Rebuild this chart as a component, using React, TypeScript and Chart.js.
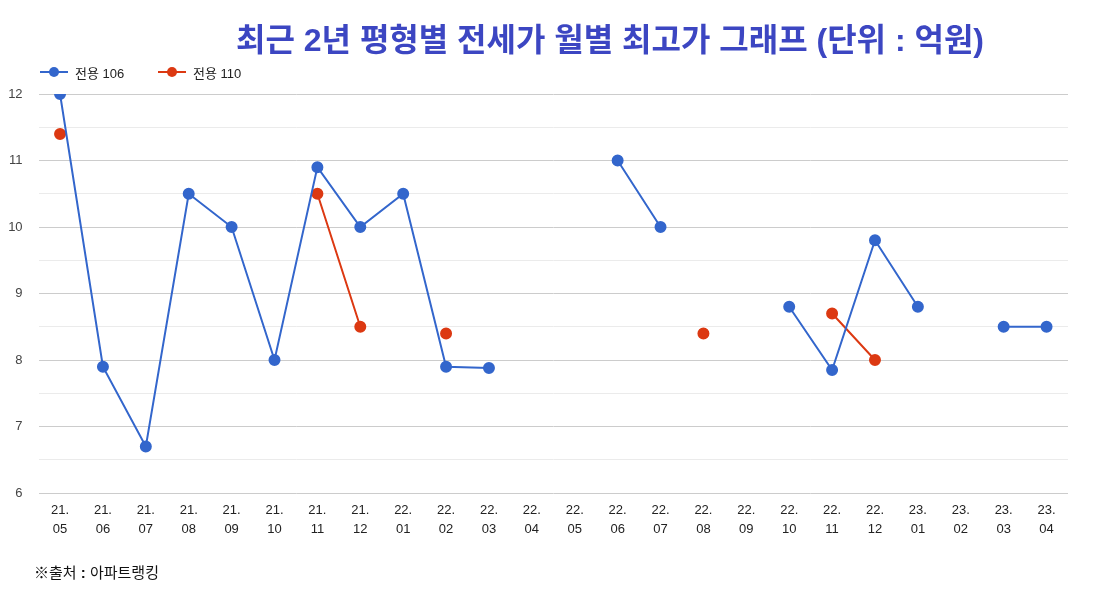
import React, { useEffect, useRef } from "react";
import { Chart, registerables } from "chart.js";

Chart.register(...registerables);

const categories: string[][] = [
  ["21.", "05"], ["21.", "06"], ["21.", "07"], ["21.", "08"], ["21.", "09"], ["21.", "10"],
  ["21.", "11"], ["21.", "12"], ["22.", "01"], ["22.", "02"], ["22.", "03"], ["22.", "04"],
  ["22.", "05"], ["22.", "06"], ["22.", "07"], ["22.", "08"], ["22.", "09"], ["22.", "10"],
  ["22.", "11"], ["22.", "12"], ["23.", "01"], ["23.", "02"], ["23.", "03"], ["23.", "04"],
];

const series106: (number | null)[] = [
  12, 7.9, 6.7, 10.5, 10, 8, 10.9, 10, 10.5, 7.9, 7.88, null,
  null, 11, 10, null, null, 8.8, 7.85, 9.8, 8.8, null, 8.5, 8.5,
];

const series110: (number | null)[] = [
  11.4, null, null, null, null, null, 10.5, 8.5, null, 8.4, null, null,
  null, null, null, 8.4, null, null, 8.7, 8.0, null, null, null, null,
];

const seriesNames = ["전용 106", "전용 110"];
const seriesColors = ["#3366cc", "#dc3912"];

const FONT = "'Liberation Sans', Arial, 'Noto Sans CJK KR', sans-serif";

export default function App() {
  const ref = useRef<HTMLCanvasElement | null>(null);

  useEffect(() => {
    if (!ref.current) return;
    const chart = new Chart(ref.current, {
      type: "line",
      data: {
        labels: categories,
        datasets: [
          {
            label: seriesNames[0],
            data: series106,
            borderColor: seriesColors[0],
            backgroundColor: seriesColors[0],
            borderWidth: 2,
            pointRadius: 5,
            pointHoverRadius: 5,
            spanGaps: false,
            tension: 0,
          },
          {
            label: seriesNames[1],
            data: series110,
            borderColor: seriesColors[1],
            backgroundColor: seriesColors[1],
            borderWidth: 2,
            pointRadius: 5,
            pointHoverRadius: 5,
            spanGaps: false,
            tension: 0,
          },
        ],
      },
      options: {
        animation: false,
        responsive: false,
        maintainAspectRatio: false,
        layout: { padding: { top: 94, bottom: 52, left: 0, right: 40 } },
        plugins: {
          legend: { display: false },
          title: { display: false },
          tooltip: { enabled: false },
        },
        scales: {
          x: {
            offset: true,
            grid: { display: false, drawTicks: false },
            border: { display: false },
            ticks: {
              autoSkip: false,
              maxRotation: 0,
              minRotation: 0,
              padding: 8,
              color: "#222",
              font: { family: FONT, size: 13, lineHeight: 1.45 },
            },
            afterFit: (s: any) => {
              s.height = 50;
            },
          },
          y: {
            min: 6,
            max: 12,
            grid: {
              drawTicks: false,
              color: (ctx: any) => {
                const v = ctx.tick ? ctx.tick.value : 0;
                return Math.abs(v - Math.round(v)) < 1e-6 ? "#cccccc" : "#ebebeb";
              },
              lineWidth: 1,
            },
            border: { display: false },
            ticks: {
              stepSize: 0.5,
              padding: 16,
              color: "#444",
              font: { family: FONT, size: 13 },
              callback: (v: any) => (Math.abs(v - Math.round(v)) < 1e-6 ? String(Math.round(v)) : ""),
            },
            afterFit: (s: any) => {
              s.width = 38.6;
            },
          },
        },
      },
    });
    return () => chart.destroy();
  }, []);

  const legendItem = (i: number, left: number) => (
    <div
      key={i}
      style={{
        position: "absolute",
        left,
        top: 63,
        height: 18,
        display: "flex",
        alignItems: "center",
        fontFamily: FONT,
        fontSize: 13,
        color: "#222",
      }}
    >
      <div style={{ position: "relative", width: 28, height: 18, marginRight: 7 }}>
        <div
          style={{
            position: "absolute",
            left: 0,
            top: 8,
            width: 28,
            height: 2,
            background: seriesColors[i],
          }}
        />
        <div
          style={{
            position: "absolute",
            left: 9,
            top: 4,
            width: 10,
            height: 10,
            borderRadius: 5,
            background: seriesColors[i],
          }}
        />
      </div>
      <span>{seriesNames[i]}</span>
    </div>
  );

  return (
    <div
      style={{
        position: "fixed",
        left: 0,
        top: 0,
        width: 1108,
        height: 595,
        background: "#fff",
        overflow: "hidden",
      }}
    >
      <canvas ref={ref} width={1108} height={595} style={{ position: "absolute", left: 0, top: 0 }} />
      <div
        style={{
          position: "absolute",
          left: 0,
          width: 1220,
          top: 14,
          textAlign: "center",
          fontFamily: FONT,
          fontWeight: "bold",
          fontSize: 32,
          color: "#3c46c2",
          whiteSpace: "nowrap",
        }}
      >
        최근 2년 평형별 전세가 월별 최고가 그래프 (단위 : 억원)
      </div>
      {legendItem(0, 40)}
      {legendItem(1, 158)}
      <div
        style={{
          position: "absolute",
          left: 34,
          top: 561,
          fontFamily: FONT,
          fontSize: 15,
          color: "#111",
          whiteSpace: "nowrap",
        }}
      >
        ※출처 <b>:</b> 아파트랭킹
      </div>
    </div>
  );
}
